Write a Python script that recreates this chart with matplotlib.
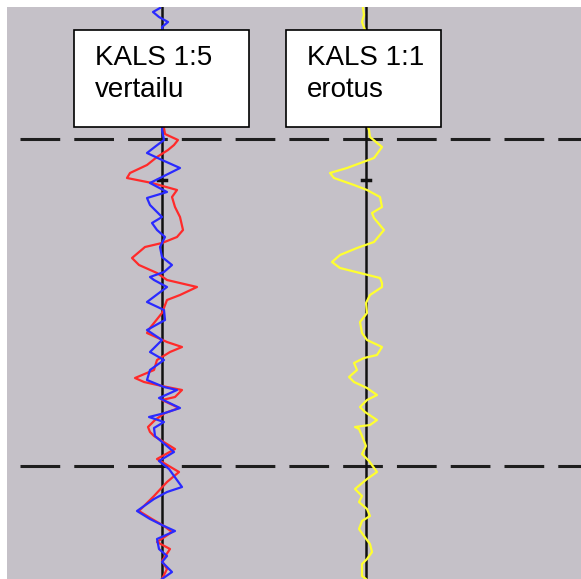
import matplotlib
matplotlib.use('Agg')
import matplotlib.pyplot as plt
from matplotlib.patches import Rectangle
import numpy as np

# trace baselines (pixel columns) and reference depths
tracks = [162, 366]
ref_depths = [139, 466]
mark_depth = 180

red_depth = [128, 134, 140, 145, 150, 157, 165, 173, 178, 183, 190, 197, 207, 217, 230, 237, 243, 247,
             258, 265, 273, 280, 287, 295, 300, 313, 328, 333, 342, 347, 352, 360, 370, 378, 382, 386,
             390, 397, 400, 408, 413, 420, 427, 432, 436, 449, 459, 472, 482, 496, 511, 519, 526, 532,
             542, 549, 561, 569, 579]
red_off = [2, 3, 16, 12, 6, -5, -15, -32, -35, -10, 15, 10, 13, 18, 21, 15, 0, -17,
           -30, -23, -5, 5, 35, 18, 5, 0, -12, -15, 5, 20, 8, -5, -8, -27, -18, 0,
           20, 13, 0, 17, 3, -7, -14, -12, -8, 13, -5, 17, 5, -8, -23, -10, 2, 10,
           -5, 8, 0, 5, 0]

blue_depth = [8, 12, 17, 22, 27, 40, 60, 80, 100, 120, 130, 140, 146, 153, 160, 168, 177, 183, 192,
              198, 205, 217, 223, 230, 237, 247, 257, 265, 272, 277, 280, 287, 302, 310, 320, 330,
              340, 352, 360, 370, 380, 387, 390, 398, 408, 413, 417, 422, 428, 436, 452, 461, 469,
              487, 492, 499, 511, 519, 526, 531, 539, 549, 556, 562, 572, 579]
blue_off = [-2, -9, -3, 6, 0, 2, -3, 3, -2, 1, 0, 2, -6, -15, 0, 18, 0, -12, 5,
            -15, -12, 0, -10, -5, 3, -2, 0, 10, 2, -12, -8, 5, -15, 2, 3, -15,
            0, -12, 2, -12, -15, 2, 15, -3, 18, 3, -13, 2, -8, -7, 12, -3, 7,
            20, 5, -8, -25, -12, 2, 13, -5, -3, 5, 0, 10, 0]

yellow_depth = [8, 15, 22, 30, 60, 90, 120, 130, 137, 147, 158, 168, 173, 178, 185, 190, 197, 207,
                213, 218, 230, 242, 248, 255, 262, 268, 273, 278, 283, 287, 295, 303, 313, 322,
                333, 340, 347, 355, 358, 363, 370, 377, 382, 388, 395, 400, 407, 412, 420, 425,
                427, 429, 436, 446, 454, 461, 472, 479, 489, 496, 502, 509, 516, 521, 529, 536,
                544, 552, 559, 564, 576, 579]
yellow_off = [-3, -2, -4, -1, 1, -1, 0, 3, 4, 16, 8, -19, -36, -32, -12, 1, 14, 16,
              6, 8, 18, 8, -9, -26, -34, -26, -6, 14, 16, 16, 4, 0, 1, -6,
              -4, 1, 16, 11, -2, -12, -9, -17, -12, 1, 11, 1, -6, -1, 11, 4,
              -11, -7, -4, 0, -4, 3, 11, 1, -11, -4, -7, 1, 4, -4, -7, -2,
              4, 6, 1, -4, -4, 0]

labels = ['KALS 1:5\nvertailu', 'KALS 1:1\nerotus']
box_left = [74, 286]
box_right = [249, 441]

W, H = 581, 579
fig = plt.figure(figsize=(W / 100, H / 100), dpi=100)
fig.patch.set_facecolor('white')
ax = fig.add_axes([7 / W, 0, (W - 7) / W, (H - 7) / H])
ax.set_xlim(7, W)
ax.set_ylim(H, 7)
ax.axis('off')
ax.add_patch(Rectangle((7, 7), W - 7, H - 7, facecolor='#c5c1c8', edgecolor='none', zorder=0))

for d in ref_depths:
    ax.plot([20, W], [d, d], color='#1e1e1e', lw=2.2, dashes=(13, 4.6), zorder=1)

for t in tracks:
    ax.plot([t, t], [7, H], color='#111111', lw=1.8, zorder=2)
    ax.plot([t - 4, t + 4], [mark_depth, mark_depth], color='#111111', lw=2.5, zorder=2)

ax.plot(tracks[0] + np.array(red_off), red_depth, color='#ff2a2a', lw=1.6, zorder=3)
ax.plot(tracks[0] + np.array(blue_off), blue_depth, color='#2a2aff', lw=1.6, zorder=4)
ax.plot(tracks[1] + np.array(yellow_off), yellow_depth, color='#ffff30', lw=1.6, zorder=3)

for lab, l, r in zip(labels, box_left, box_right):
    ax.add_patch(Rectangle((l, 30), r - l, 97, facecolor='white', edgecolor='black', lw=1.2, zorder=5))
    ax.text(l + 21, 45, lab, fontsize=20, family='Liberation Sans', va='top', ha='left',
            linespacing=1.28, zorder=6)

fig.savefig('out.png', dpi=100)
